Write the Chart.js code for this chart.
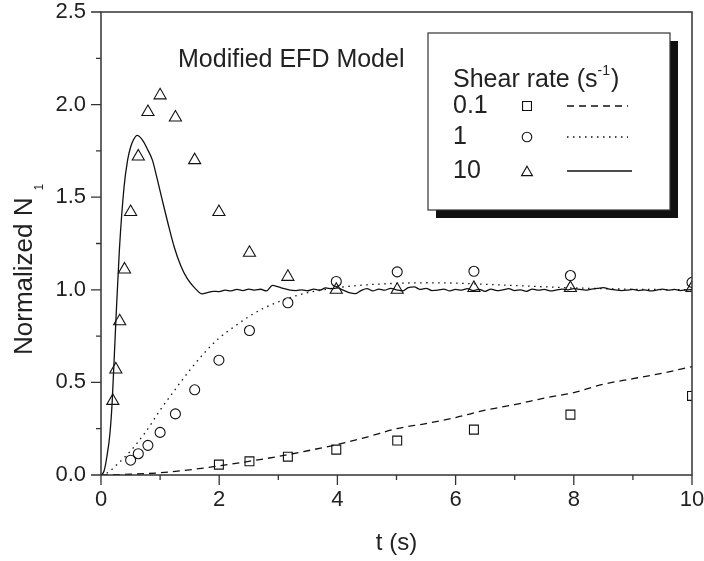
<!DOCTYPE html>
<html>
<head>
<meta charset="utf-8">
<style>
  html, body { margin: 0; padding: 0; background: #fff; }
  #chart { display: block; }
</style>
<script src="https://cdn.jsdelivr.net/npm/chart.js@4"></script>
</head>
<body>
<canvas id="chart" width="704" height="561"></canvas>
<script>
// measured points, t on a log grid
var tenT = [0.2, 0.251, 0.316, 0.398, 0.501, 0.631, 0.794, 1, 1.259, 1.585, 1.995, 2.512, 3.162, 3.981, 5.012, 6.31, 7.943, 10];
var tenPts = [0.40, 0.57, 0.83, 1.11, 1.42, 1.72, 1.96, 2.05, 1.93, 1.70, 1.42, 1.20, 1.07, 1.00, 1.00, 1.01, 1.01, 1.01];
var oneT = [0.501, 0.631, 0.794, 1, 1.259, 1.585, 1.995, 2.512, 3.162, 3.981, 5.012, 6.31, 7.943, 10];
var onePts = [0.08, 0.115, 0.16, 0.23, 0.33, 0.46, 0.62, 0.78, 0.93, 1.045, 1.097, 1.10, 1.077, 1.04];
var tenthT = [1.995, 2.512, 3.162, 3.981, 5.012, 6.31, 7.943, 10];
var tenthPts = [0.056, 0.074, 0.099, 0.137, 0.186, 0.245, 0.326, 0.427];

// model curves
var tenthLineT = [0, 0.5, 1, 1.5, 2, 2.5, 3, 3.5, 4, 4.5, 5, 5.5, 6, 6.5, 7, 7.5, 8, 8.5, 9, 9.5, 10];
var tenthLineV = [0, 0.004, 0.012, 0.028, 0.049, 0.074, 0.1, 0.131, 0.165, 0.205, 0.25, 0.278, 0.31, 0.35, 0.38, 0.415, 0.445, 0.49, 0.52, 0.55, 0.585];
var oneLineT = [0, 0.1, 0.25, 0.5, 0.75, 1, 1.25, 1.5, 1.75, 2, 2.25, 2.5, 2.75, 3, 3.25, 3.5, 3.75, 4, 4.5, 5, 5.5, 6, 6.5, 7, 7.5, 8, 9, 10];
var oneLineV = [0, 0.01, 0.05, 0.13, 0.23, 0.35, 0.46, 0.565, 0.66, 0.74, 0.80, 0.855, 0.9, 0.935, 0.963, 0.985, 1.0, 1.012, 1.027, 1.035, 1.038, 1.036, 1.03, 1.023, 1.016, 1.01, 1.003, 1.0];
var tenLineT = [0, 0.05, 0.1, 0.15, 0.19, 0.25, 0.31, 0.39, 0.45, 0.5, 0.55, 0.61, 0.7, 0.8, 0.87, 0.95, 1.04, 1.14, 1.24, 1.35, 1.46, 1.6, 1.71,
  1.8, 1.9, 2.0, 2.1, 2.2, 2.3, 2.4, 2.5, 2.6, 2.7, 2.8, 2.9, 3.0, 3.1, 3.2, 3.3, 3.4, 3.5, 3.6, 3.7, 3.8, 3.9,
  4.0, 4.1, 4.2, 4.3, 4.4, 4.5, 4.6, 4.7, 4.8, 4.9, 5.0, 5.1, 5.2, 5.3, 5.4, 5.5, 5.6, 5.7, 5.8, 5.9,
  6.0, 6.1, 6.2, 6.3, 6.4, 6.5, 6.6, 6.7, 6.8, 6.9, 7.0, 7.1, 7.2, 7.3, 7.4, 7.5, 7.6, 7.7, 7.8, 7.9,
  8.0, 8.1, 8.2, 8.3, 8.4, 8.5, 8.6, 8.7, 8.8, 8.9, 9.0, 9.1, 9.2, 9.3, 9.4, 9.5, 9.6, 9.7, 9.8, 9.9, 10.0];
var tenLineV = [0, 0.02, 0.1, 0.22, 0.40, 0.82, 1.21, 1.555, 1.70, 1.77, 1.81, 1.834, 1.81, 1.75, 1.70, 1.60, 1.48, 1.35, 1.23, 1.13, 1.06, 1.005, 0.978,
  0.985, 0.992, 0.990, 0.998, 0.994, 1.002, 0.996, 1.004, 0.998, 1.003, 0.994, 1.024, 1.016, 1.006, 0.998, 0.996, 1.000, 0.995, 1.004, 0.998, 1.010, 1.006,
  1.010, 0.998, 0.985, 0.979, 0.996, 1.006, 0.994, 1.004, 0.998, 1.008, 1.000, 0.994, 1.012, 1.016, 1.002, 1.008, 0.996, 0.998, 1.004, 0.994,
  1.002, 0.998, 1.006, 0.996, 1.002, 0.992, 1.004, 0.996, 1.000, 1.006, 0.996, 1.000, 0.992, 1.004, 0.998, 1.002, 0.994, 0.998, 1.004, 1.000,
  1.006, 1.002, 0.998, 1.004, 1.008, 1.012, 1.004, 1.000, 0.996, 0.998, 1.002, 0.996, 1.000, 0.994, 0.998, 1.004, 0.998, 1.002, 0.996, 1.000, 1.002];

var xTicks = [0, 2, 4, 6, 8, 10];
var yTicks = [0, 0.5, 1.0, 1.5, 2.0, 2.5];
var legendRows = ['0.1', '1', '10'];

var FONT = '"Liberation Sans", Arial, sans-serif';
var INK = '#222';

function pairs(xs, ys) {
  return xs.map(function(x, i) { return { x: x, y: ys[i] }; });
}

function isMajor(list, v) {
  return list.some(function(m) { return Math.abs(m - v) < 1e-9; });
}

var framePlugin = {
  id: 'frame',
  afterDraw: function(chart) {
    var c = chart.ctx, a = chart.chartArea;
    var xs = chart.scales.x, ys = chart.scales.y;
    c.save();
    c.strokeStyle = '#333';
    c.lineWidth = 1.5;
    c.strokeRect(a.left, a.top, a.right - a.left, a.bottom - a.top);
    c.lineWidth = 1.3;
    c.beginPath();
    for (var t = 0; t <= 10; t++) {
      var px = xs.getPixelForValue(t);
      c.moveTo(px, a.bottom);
      c.lineTo(px, a.bottom + (isMajor(xTicks, t) ? 10 : 5));
    }
    for (var k = 0; k <= 10; k++) {
      var v = k * 0.25;
      var py = ys.getPixelForValue(v);
      c.moveTo(a.left, py);
      c.lineTo(a.left - (isMajor(yTicks, v) ? 10 : 5), py);
    }
    c.stroke();

    // axis titles
    c.fillStyle = INK;
    c.font = '24px ' + FONT;
    c.textAlign = 'center';
    c.textBaseline = 'middle';
    c.fillText('t (s)', (a.left + a.right) / 2, 543);

    c.save();
    c.translate(32, 355);
    c.rotate(-Math.PI / 2);
    c.textAlign = 'left';
    c.textBaseline = 'alphabetic';
    c.font = '26px ' + FONT;
    c.fillText('Normalized N', 0, 0);
    var w = c.measureText('Normalized N').width;
    c.font = '12px ' + FONT;
    c.fillText('1', w + 7, 11);
    c.restore();

    // title inside plot
    c.font = '25px ' + FONT;
    c.textAlign = 'left';
    c.textBaseline = 'alphabetic';
    c.fillText('Modified EFD Model', 178, 67);

    // legend box with shadow
    c.fillStyle = '#111';
    c.fillRect(436, 41, 242, 177);
    c.fillStyle = '#fff';
    c.fillRect(428, 33, 242, 177);
    c.strokeStyle = '#333';
    c.lineWidth = 1.2;
    c.strokeRect(428, 33, 242, 177);

    c.fillStyle = INK;
    c.font = '25px ' + FONT;
    c.fillText('Shear rate (s', 453, 87);
    var sw = c.measureText('Shear rate (s').width;
    c.font = '14px ' + FONT;
    c.fillText('-1', 453 + sw, 75);
    var sw2 = c.measureText('-1').width;
    c.font = '25px ' + FONT;
    c.fillText(')', 453 + sw + sw2 + 1, 87);

    var rowY = [106, 137, 171];
    var styles = ['rect', 'circle', 'triangle'];
    var radii = [6.3, 4.8, 6.3];
    var dashes = [[7, 5], [1.5, 4.5], []];
    var ends = [628, 628, 632];
    for (var i = 0; i < legendRows.length; i++) {
      c.fillStyle = INK;
      c.font = '25px ' + FONT;
      c.textBaseline = 'middle';
      c.fillText(legendRows[i], 453, rowY[i]);
      c.fillStyle = '#fff';
      c.strokeStyle = '#111';
      c.lineWidth = 1.1;
      c.setLineDash([]);
      Chart.helpers.drawPoint(c, { pointStyle: styles[i], radius: radii[i], rotation: 0, borderWidth: 1.1 }, 527, rowY[i] + (i === 2 ? 1.5 : 0));
      c.setLineDash(dashes[i]);
      c.lineWidth = 1.3;
      c.beginPath();
      c.moveTo(567, rowY[i]);
      c.lineTo(ends[i], rowY[i]);
      c.stroke();
    }
    c.setLineDash([]);
    c.restore();
  }
};

function markerSet(data, style, r) {
  return {
    data: data, showLine: false, pointStyle: style, pointRadius: r,
    pointBorderColor: '#111', pointBackgroundColor: 'rgba(255,255,255,0)', pointBorderWidth: 1.1
  };
}

function lineSet(data, dash) {
  return {
    data: data, showLine: true, pointRadius: 0, borderColor: '#111', borderWidth: 1.3,
    borderDash: dash, cubicInterpolationMode: 'monotone', fill: false
  };
}

new Chart(document.getElementById('chart'), {
  type: 'scatter',
  data: {
    datasets: [
      lineSet(pairs(tenthLineT, tenthLineV), [7, 5]),
      lineSet(pairs(oneLineT, oneLineV), [1.5, 4.5]),
      lineSet(pairs(tenLineT, tenLineV), []),
      markerSet(pairs(tenthT, tenthPts), 'rect', 6.3),
      markerSet(pairs(oneT, onePts), 'circle', 5),
      markerSet(pairs(tenT, tenPts), 'triangle', 7)
    ]
  },
  options: {
    responsive: false,
    animation: false,
    layout: { padding: { top: 12, right: 12, left: 0, bottom: 0 } },
    plugins: { legend: { display: false }, tooltip: { enabled: false } },
    scales: {
      x: {
        type: 'linear', min: 0, max: 10,
        grid: { display: false, drawTicks: false },
        border: { display: false },
        ticks: {
          stepSize: 1, autoSkip: false, maxRotation: 0, padding: 12,
          color: INK, font: { family: FONT, size: 22 },
          callback: function(v) { return isMajor(xTicks, v) ? String(v) : ''; }
        },
        afterFit: function(s) { s.height = 86; s.paddingLeft = 0; s.paddingRight = 0; }
      },
      y: {
        type: 'linear', min: 0, max: 2.5,
        grid: { display: false, drawTicks: false },
        border: { display: false },
        ticks: {
          stepSize: 0.25, autoSkip: false, padding: 15,
          color: INK, font: { family: FONT, size: 22 },
          callback: function(v) { return isMajor(yTicks, v) ? v.toFixed(1) : ''; }
        },
        afterFit: function(s) { s.width = 101; s.paddingTop = 0; s.paddingBottom = 0; }
      }
    }
  },
  plugins: [framePlugin]
});
</script>
</body>
</html>
